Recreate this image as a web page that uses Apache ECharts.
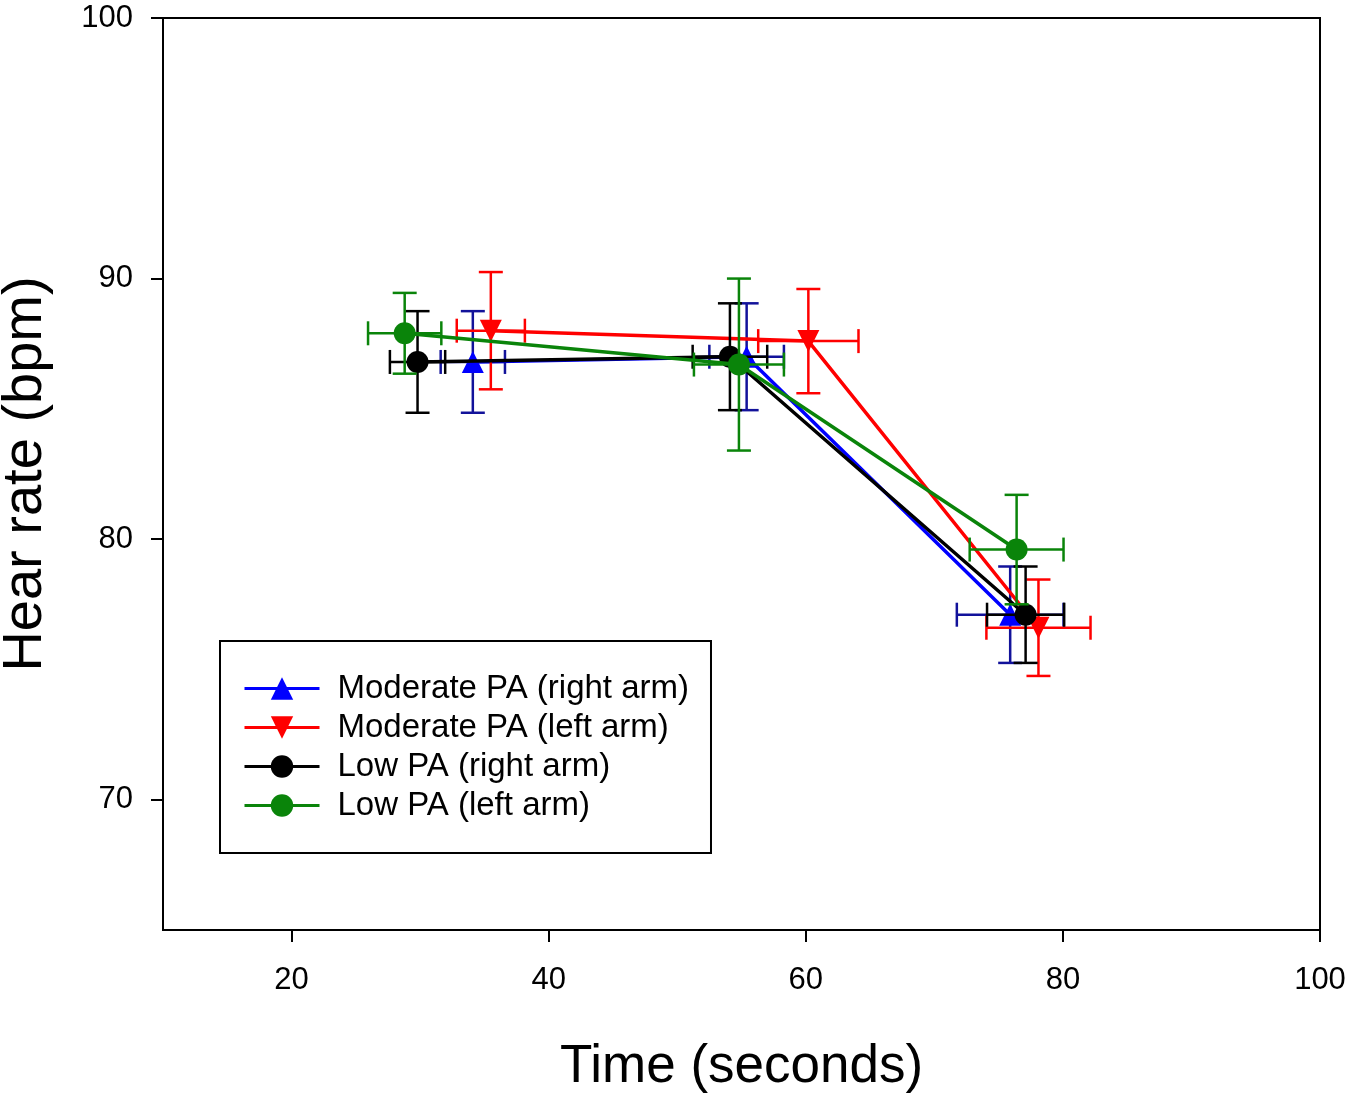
<!DOCTYPE html>
<html>
<head>
<meta charset="utf-8">
<script src="https://cdn.jsdelivr.net/npm/echarts@6/dist/echarts.min.js"></script>
<style>
  html, body { margin: 0; padding: 0; background: #fff; }
  #chart { width: 1350px; height: 1099px; }
</style>
</head>
<body>
<div id="chart"></div>
<script>
// ── DATA ───────────────────────────────────────────
const seriesNames = ['Moderate PA (right arm)', 'Moderate PA (left arm)', 'Low PA (right arm)', 'Low PA (left arm)'];

const timeModRight = [34.1, 55.4, 75.9];
const hrModRight   = [86.8, 87.0, 77.1];
const timeErrModRight = [2.5, 2.9, 4.15];
const hrErrModRight   = [1.95, 2.05, 1.85];

const timeModLeft = [35.5, 60.2, 78.1];
const hrModLeft   = [88.0, 87.6, 76.6];
const timeErrModLeft = [2.65, 3.9, 4.05];
const hrErrModLeft   = [2.25, 2.0, 1.85];

const timeLowRight = [29.8, 54.1, 77.1];
const hrLowRight   = [86.8, 87.0, 77.1];
const timeErrLowRight = [2.15, 2.9, 3.0];
const hrErrLowRight   = [1.95, 2.05, 1.85];

const timeLowLeft = [28.8, 54.8, 76.4];
const hrLowLeft   = [87.9, 86.7, 79.6];
const timeErrLowLeft = [2.85, 3.5, 3.65];
const hrErrLowLeft   = [1.55, 3.3, 2.1];

const xTicks = [20, 40, 60, 80, 100];
const yTicks = [70, 80, 90, 100];

// ── STYLE ──────────────────────────────────────────
const FONT = 'Liberation Sans, Arial, sans-serif';
const groups = [
  { name: seriesNames[0], t: timeModRight, hr: hrModRight, te: timeErrModRight, he: hrErrModRight,
    color: '#0000ff', errColor: '#12129a', symbol: 'triangle', rotate: 0 },
  { name: seriesNames[1], t: timeModLeft, hr: hrModLeft, te: timeErrModLeft, he: hrErrModLeft,
    color: '#ff0000', errColor: '#ff0000', symbol: 'triangle', rotate: 180 },
  { name: seriesNames[2], t: timeLowRight, hr: hrLowRight, te: timeErrLowRight, he: hrErrLowRight,
    color: '#000000', errColor: '#000000', symbol: 'circle', rotate: 0 },
  { name: seriesNames[3], t: timeLowLeft, hr: hrLowLeft, te: timeErrLowLeft, he: hrErrLowLeft,
    color: '#0a840a', errColor: '#0a840a', symbol: 'circle', rotate: 0 },
];

const CAP = 12;
function errorBarRenderer(color) {
  return function (params, api) {
    const x = api.value(0), y = api.value(1), xe = api.value(2), ye = api.value(3);
    const top = api.coord([x, y + ye]);
    const bot = api.coord([x, y - ye]);
    const lft = api.coord([x - xe, y]);
    const rgt = api.coord([x + xe, y]);
    const st = { stroke: color, lineWidth: 2.5 };
    const line = (x1, y1, x2, y2) => ({ type: 'line', shape: { x1, y1, x2, y2 }, style: st });
    return {
      type: 'group',
      children: [
        line(top[0], top[1], bot[0], bot[1]),
        line(top[0] - CAP, top[1], top[0] + CAP, top[1]),
        line(bot[0] - CAP, bot[1], bot[0] + CAP, bot[1]),
        line(lft[0], lft[1], rgt[0], rgt[1]),
        line(lft[0], lft[1] - CAP, lft[0], lft[1] + CAP),
        line(rgt[0], rgt[1] - CAP, rgt[0], rgt[1] + CAP),
      ],
    };
  };
}

const series = [];
groups.forEach((g, i) => {
  series.push({
    name: g.name + ' err',
    type: 'custom',
    renderItem: errorBarRenderer(g.errColor),
    data: g.t.map((t, k) => [t, g.hr[k], g.te[k], g.he[k]]),
    z: 2 + i * 2,
    silent: true,
  });
  series.push({
    name: g.name,
    type: 'line',
    data: g.t.map((t, k) => [t, g.hr[k]]),
    symbol: g.symbol,
    symbolRotate: g.rotate,
    symbolSize: 22,
    itemStyle: { color: g.color },
    lineStyle: { color: g.color, width: 3.5 },
    z: 3 + i * 2,
    animation: false,
  });
});

const chart = echarts.init(document.getElementById('chart'));
chart.setOption({
  animation: false,
  backgroundColor: '#fff',
  grid: {
    left: 163, right: 30, top: 18, bottom: 169,
    outerBoundsMode: 'none', containLabel: false,
    show: true, borderColor: '#000', borderWidth: 2, backgroundColor: 'transparent',
  },
  xAxis: {
    type: 'value', min: 10, max: 100,
    name: 'Time (seconds)', nameLocation: 'middle', nameGap: 111,
    nameTextStyle: { fontFamily: FONT, fontSize: 53, color: '#000' },
    axisLine: { show: true, lineStyle: { color: '#000', width: 2 } },
    axisTick: { show: true, length: 12, lineStyle: { color: '#000', width: 2 }, customValues: xTicks },
    axisLabel: { fontFamily: FONT, fontSize: 31, color: '#000', margin: 35, customValues: xTicks },
    splitLine: { show: false },
  },
  yAxis: {
    type: 'value', min: 65, max: 100,
    name: 'Hear rate (bpm)', nameLocation: 'middle', nameGap: 109,
    nameTextStyle: { fontFamily: FONT, fontSize: 56, color: '#000' },
    axisLine: { show: true, lineStyle: { color: '#000', width: 2 } },
    axisTick: { show: true, length: 12, lineStyle: { color: '#000', width: 2 }, customValues: yTicks },
    axisLabel: { fontFamily: FONT, fontSize: 31, color: '#000', margin: 30, customValues: yTicks },
    splitLine: { show: false },
  },
  legend: {
    data: seriesNames,
    orient: 'vertical',
    left: 220, top: 641,
    padding: [31, 22, 31, 23],
    itemGap: 6,
    itemWidth: 75, itemHeight: 28,
    borderColor: '#000', borderWidth: 2,
    backgroundColor: '#fff',
    lineStyle: { width: 3 },
    textStyle: { fontFamily: FONT, fontSize: 33, lineHeight: 30, color: '#000', padding: [0, 0, 0, 13] },
    selectedMode: false,
  },
  series,
});
</script>
</body>
</html>
